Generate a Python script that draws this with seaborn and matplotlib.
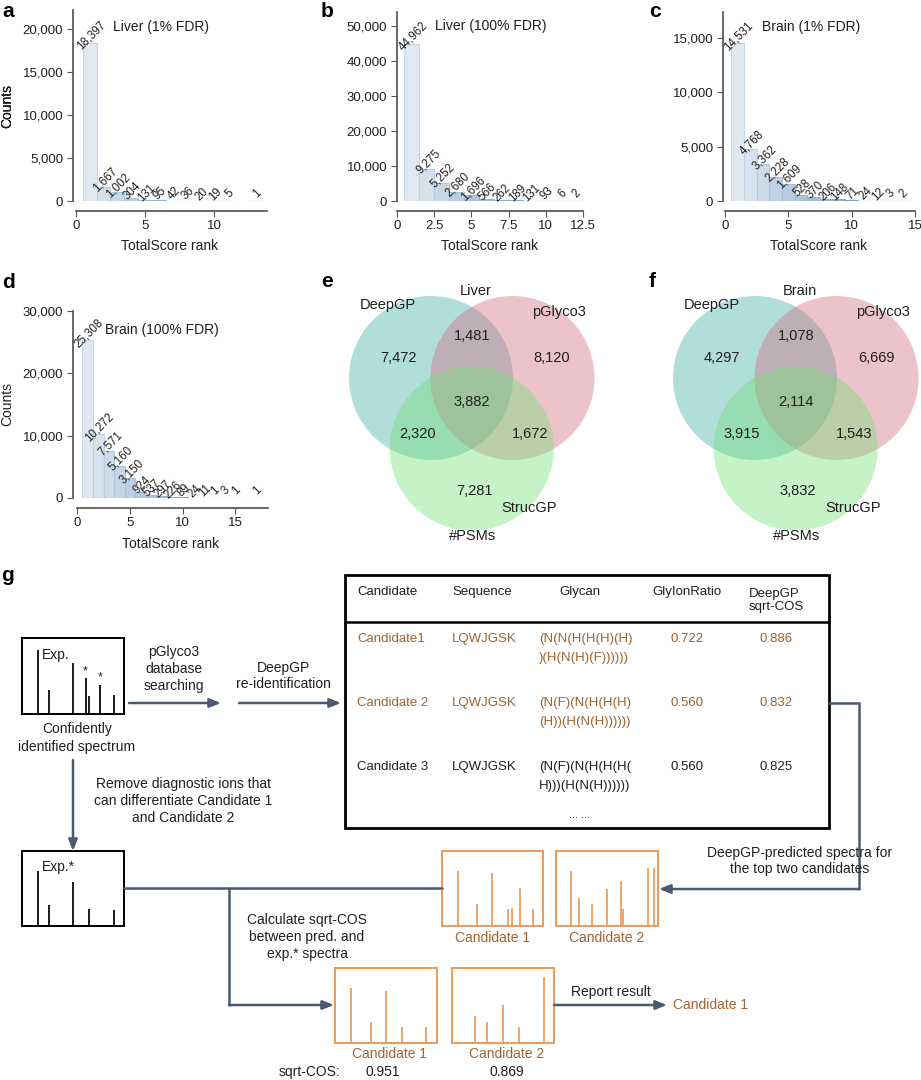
#!/usr/bin/env python3
import pandas as pd
import seaborn as sns
import matplotlib
matplotlib.use('Agg')
import matplotlib.pyplot as plt
import matplotlib.ticker as ticker
from matplotlib.patches import Circle, Rectangle

W, H = 921, 1080

# a-d: PSM counts per TotalScore rank
liver_1pct_rank = [1, 2, 3, 4, 5, 6, 7, 8, 9, 10, 11, 13]
liver_1pct_count = [18397, 1667, 1002, 304, 131, 95, 42, 36, 20, 19, 5, 1]
liver_100pct_rank = [1, 2, 3, 4, 5, 6, 7, 8, 9, 10, 11, 12]
liver_100pct_count = [44962, 9275, 5252, 2680, 1696, 566, 262, 189, 131, 93, 6, 2]
brain_1pct_rank = [1, 2, 3, 4, 5, 6, 7, 8, 9, 10, 11, 12, 13, 14]
brain_1pct_count = [14531, 4768, 3362, 2228, 1609, 528, 370, 206, 148, 71, 24, 12, 3, 2]
brain_100pct_rank = [1, 2, 3, 4, 5, 6, 7, 8, 9, 10, 11, 12, 13, 14, 15, 17]
brain_100pct_count = [25308, 10272, 7571, 5160, 3150, 924, 537, 297, 226, 89, 24, 11, 1, 3, 1, 1]

# e-f: #PSMs, regions in order 100, 010, 001, 110, 101, 011, 111
venn_sets = ['DeepGP', 'pGlyco3', 'StrucGP']
liver_venn = [7472, 8120, 7281, 1481, 2320, 1672, 3882]
brain_venn = [4297, 6669, 3832, 1078, 3915, 1543, 2114]

# g: candidate table
table_header = ['Candidate', 'Sequence', 'Glycan', 'GlyIonRatio', 'DeepGP\nsqrt-COS']
cand_name = ['Candidate1', 'Candidate 2', 'Candidate 3']
cand_seq = ['LQWJGSK', 'LQWJGSK', 'LQWJGSK']
cand_glycan = [['(N(N(H(H(H)(H)', ')(H(N(H)(F))))))'],
               ['(N(F)(N(H(H(H)', '(H))(H(N(H))))))'],
               ['(N(F)(N(H(H(H(', 'H)))(H(N(H))))))']]
cand_ratio = [0.722, 0.560, 0.560]
cand_cos = [0.886, 0.832, 0.825]
rescored_cos = [0.951, 0.869]

# g: schematic spectra (relative peak position, relative height)
exp_pos = [0.157, 0.265, 0.5, 0.624, 0.657, 0.768, 0.902]
exp_hgt = [0.846, 0.32, 0.671, 0.474, 0.241, 0.386, 0.254]
expstar_pos = [0.157, 0.265, 0.5, 0.657, 0.902]
expstar_hgt = [0.733, 0.284, 0.587, 0.222, 0.218]
pred1_pos = [0.154, 0.351, 0.498, 0.652, 0.689, 0.770, 0.902]
pred1_hgt = [0.735, 0.288, 0.708, 0.226, 0.235, 0.509, 0.221]
pred2_pos = [0.151, 0.224, 0.349, 0.503, 0.641, 0.661, 0.901, 0.957]
pred2_hgt = [0.730, 0.367, 0.288, 0.5, 0.602, 0.221, 0.774, 0.774]
pred1_star_pos = [0.153, 0.349, 0.498, 0.658, 0.896]
pred1_star_hgt = [0.727, 0.282, 0.700, 0.211, 0.211]
pred2_star_pos = [0.225, 0.346, 0.5, 0.660, 0.902]
pred2_star_hgt = [0.361, 0.282, 0.502, 0.216, 0.877]

ARROW = '#4b5a70'
ORANGE = '#ee9a58'
BROWN = '#a3622f'
TXT = '#1f1f1f'

sns.set_theme(style='ticks')
plt.rcParams['font.family'] = ['Liberation Sans', 'DejaVu Sans']
plt.rcParams['axes.edgecolor'] = '#555555'
plt.rcParams['xtick.color'] = '#555555'
plt.rcParams['ytick.color'] = '#555555'
plt.rcParams['xtick.labelcolor'] = TXT
plt.rcParams['ytick.labelcolor'] = TXT
plt.rcParams['text.color'] = TXT
plt.rcParams['axes.labelcolor'] = TXT

fig = plt.figure(figsize=(W / 100, H / 100), dpi=100)
fig.patch.set_facecolor('white')

ov = fig.add_axes([0, 0, 1, 1])
ov.set_xlim(0, W)
ov.set_ylim(H, 0)
ov.axis('off')


def rank_panel(box, ranks, counts, xlim, ylim, xticks, yticks, title, title_x, title_y, xlab_top):
    l, t, r, b = box
    ax = fig.add_axes([l / W, 1 - b / H, (r - l) / W, (b - t) / H])
    df = pd.DataFrame({'rank': ranks, 'count': counts})
    df['lvl'] = df['rank'].astype(str)
    pal = sns.blend_palette(['#dde9f5', '#4f8cc5'], len(ranks))
    sns.barplot(data=df, x='rank', y='count', hue='lvl', palette=pal, native_scale=True,
                width=1, dodge=False, legend=False, errorbar=None, ax=ax, linewidth=0.8)
    for p in ax.patches:
        fc = p.get_facecolor()
        p.set_edgecolor(tuple(0.8 * c + 0.2 * d for c, d in zip(fc[:3], (0.31, 0.55, 0.77))))
    for rk, c in zip(ranks, counts):
        ax.annotate(f'{c:,}', (rk, c), xytext=(1, 5), textcoords='offset points',
                    rotation=45, ha='center', va='center', fontsize=8.3)
    ax.set_xlim(*xlim)
    ax.set_ylim(*ylim)
    ax.set_xticks(xticks)
    ax.set_yticks(yticks)
    ax.xaxis.set_major_formatter(ticker.FuncFormatter(lambda v, _: f'{v:g}'))
    ax.yaxis.set_major_formatter(ticker.StrMethodFormatter('{x:,.0f}'))
    ax.tick_params(labelsize=9.5, length=4, width=0.8, pad=3)
    sns.despine(ax=ax)
    ax.spines['bottom'].set_position(('outward', 7))
    ax.spines['bottom'].set_bounds(max(0, xlim[0]), xlim[1])
    ax.set_xlabel('TotalScore rank', fontsize=10)
    ax.set_ylabel('Counts', fontsize=10)
    ax.xaxis.set_label_coords(0.5, -(xlab_top - b) / (b - t))
    ax.yaxis.set_label_coords(-(l - 14) / (r - l), 0.5)
    ax.text(title_x, title_y, title, transform=ax.transAxes, fontsize=10, va='center')
    return ax


rank_panel((73, 10, 267, 201), liver_1pct_rank, liver_1pct_count, (-0.2, 13.8), (0, 22200),
           [0, 5, 10], [0, 5000, 10000, 15000, 20000], 'Liver (1% FDR)', 0.206, 0.91, 239)
rank_panel((397, 12, 583, 201), liver_100pct_rank, liver_100pct_count, (0, 12.5), (0, 54000),
           [0, 2.5, 5, 7.5, 10, 12.5], [0, 10000, 20000, 30000, 40000, 50000],
           'Liver (100% FDR)', 0.204, 0.926, 239)
rank_panel((723, 12, 915, 201), brain_1pct_rank, brain_1pct_count, (-0.15, 15), (0, 17400),
           [0, 5, 10, 15], [0, 5000, 10000, 15000], 'Brain (1% FDR)', 0.203, 0.92, 239)
rank_panel((73, 311, 268, 498), brain_100pct_rank, brain_100pct_count, (-0.4, 18.1), (0, 30000),
           [0, 5, 10, 15], [0, 10000, 20000, 30000], 'Brain (100% FDR)', 0.165, 0.90, 537)

# panel letters
for s, x, y in [('a', 2, 17), ('b', 321, 17), ('c', 649, 17), ('d', 2, 288),
                ('e', 321, 287), ('f', 649, 287), ('g', 1, 581)]:
    ov.text(x, y, s, fontsize=15, fontweight='bold', va='baseline', ha='left', color='black')


# e, f: Venn diagrams (unweighted)
venn_colors = ['#3eaca5', '#d46b7f', '#6ee175']
venn_label_off = [(-33, -20), (121, -20), (43, 113), (41, -42), (-13, 56), (99, 56), (41, 24)]
venn_name_off = [(-43, -73), (128, -66), (98, 130)]


def venn(cx, cy, values, title):
    centers = [(cx, cy), (cx + 81.5, cy), (cx + 40.75, cy + 70.5)]
    for (x, y), c in zip(centers, venn_colors):
        ov.add_patch(Circle((x, y), 82, fc=c, alpha=0.4, ec='none'))
    for v, (dx, dy) in zip(values, venn_label_off):
        ov.text(cx + dx, cy + dy, f'{v:,}', ha='center', va='center', fontsize=10.5)
    for name, (dx, dy) in zip(venn_sets, venn_name_off):
        ov.text(cx + dx, cy + dy, name, ha='center', va='center', fontsize=10.5)
    ov.text(cx + 45, cy - 87, title, ha='center', va='center', fontsize=10.5)
    ov.text(cx + 42, cy + 158, '#PSMs', ha='center', va='center', fontsize=10.5)


venn(431, 378, liver_venn, 'Liver')
venn(755, 378, brain_venn, 'Brain')


# g: workflow schematic
def spectrum(box, pos, hgt, color, lw=1.4):
    x0, y0, x1, y1 = box
    ov.add_patch(Rectangle((x0, y0), x1 - x0, y1 - y0, fill=False, ec=color, lw=lw))
    for p, h in zip(pos, hgt):
        x = x0 + p * (x1 - x0)
        ov.plot([x, x], [y1, y1 - h * (y1 - y0)], color=color, lw=lw * 0.9, solid_capstyle='butt')


def arrow(points, color=ARROW):
    xs, ys = zip(*points)
    if len(points) > 2:
        ov.plot(xs[:-1], ys[:-1], color=color, lw=1.8, solid_joinstyle='miter')
    ov.annotate('', xy=points[-1], xytext=points[-2],
                arrowprops=dict(arrowstyle='-|>,head_length=0.55,head_width=0.22', color=color,
                                lw=1.8, shrinkA=0, shrinkB=0))


exp_box = (22, 638, 124, 714)
spectrum(exp_box, exp_pos, exp_hgt, 'black')
ov.text(42, 655, 'Exp.', fontsize=10, va='center')
for i in (3, 5):
    x = exp_box[0] + exp_pos[i] * (exp_box[2] - exp_box[0])
    ytop = exp_box[3] - exp_hgt[i] * (exp_box[3] - exp_box[1])
    ov.text(x, ytop - 1, '*', ha='center', va='bottom', fontsize=9)
ov.text(77, 738, 'Confidently\nidentified spectrum', ha='center', va='center', fontsize=10,
        linespacing=1.3)

arrow([(129, 703), (221, 703)])
ov.text(174, 669, 'pGlyco3\ndatabase\nsearching', ha='center', va='center', fontsize=10,
        linespacing=1.25)
arrow([(239, 703), (341, 703)])
ov.text(283, 676, 'DeepGP\nre-identification', ha='center', va='center', fontsize=10,
        linespacing=1.25)

# candidate table
ov.add_patch(Rectangle((345, 575), 484, 253, fill=False, ec='black', lw=2))
ov.plot([345, 829], [622, 622], color='black', lw=1.8)
hx = [357, 452, 580, 687, 749]
ha_list = ['left', 'left', 'center', 'center', 'left']
for s, x, ha in zip(table_header, hx, ha_list):
    ov.text(x, 592 if '\n' not in s else 600.5, s, ha=ha, va='center', fontsize=9.5,
            linespacing=1.2)
row_y = [639, 703, 767]
row_col = [BROWN, BROWN, TXT]
for name, seq, gly, ratio, cos, y, c in zip(cand_name, cand_seq, cand_glycan, cand_ratio,
                                             cand_cos, row_y, row_col):
    ov.text(357, y, name, ha='left', va='center', fontsize=9.5, color=c)
    ov.text(452, y, seq, ha='left', va='center', fontsize=9.5, color=c)
    ov.text(539, y, gly[0], ha='left', va='center', fontsize=9.5, color=c)
    ov.text(539, y + 19, gly[1], ha='left', va='center', fontsize=9.5, color=c)
    ov.text(687, y, f'{ratio:.3f}', ha='center', va='center', fontsize=9.5, color=c)
    ov.text(776, y, f'{cos:.3f}', ha='center', va='center', fontsize=9.5, color=c)
ov.text(580, 815, '... ...', ha='center', va='center', fontsize=8)

# predicted spectra for the top two candidates
arrow([(829, 703), (859, 703), (859, 889), (659, 889)])
ov.text(800, 861, 'DeepGP-predicted spectra for\nthe top two candidates', ha='center',
        va='center', fontsize=10, linespacing=1.25)
top_boxes = [(442, 851, 543, 926), (556, 851, 658, 926)]
spectrum(top_boxes[0], pred1_pos, pred1_hgt, ORANGE)
spectrum(top_boxes[1], pred2_pos, pred2_hgt, ORANGE)
ov.text(492, 938, 'Candidate 1', ha='center', va='center', fontsize=10, color=BROWN)
ov.text(607, 938, 'Candidate 2', ha='center', va='center', fontsize=10, color=BROWN)

# diagnostic ions removed
arrow([(73, 760), (73, 851)])
ov.text(183, 801, 'Remove diagnostic ions that\ncan differentiate Candidate 1\nand Candidate 2',
        ha='center', va='center', fontsize=10, linespacing=1.25)
spectrum((22, 851, 124, 926), expstar_pos, expstar_hgt, 'black')
ov.text(42, 867, 'Exp.*', fontsize=10, va='center')
ov.plot([124, 442], [888, 888], color=ARROW, lw=1.8)
arrow([(229, 888), (229, 1005), (334, 1005)])
ov.text(307, 937, 'Calculate sqrt-COS\nbetween pred. and\nexp.* spectra', ha='center',
        va='center', fontsize=10, linespacing=1.25)

bottom_boxes = [(335, 968, 437, 1043), (452, 968, 554, 1043)]
spectrum(bottom_boxes[0], pred1_star_pos, pred1_star_hgt, ORANGE)
spectrum(bottom_boxes[1], pred2_star_pos, pred2_star_hgt, ORANGE)
ov.text(389, 1054, 'Candidate 1', ha='center', va='center', fontsize=10, color=BROWN)
ov.text(507, 1054, 'Candidate 2', ha='center', va='center', fontsize=10, color=BROWN)
ov.text(309, 1072, 'sqrt-COS:', ha='center', va='center', fontsize=10)
ov.text(383, 1072, f'{rescored_cos[0]:.3f}', ha='center', va='center', fontsize=10)
ov.text(507, 1072, f'{rescored_cos[1]:.3f}', ha='center', va='center', fontsize=10)

arrow([(554, 1005), (667, 1005)])
ov.text(611, 992, 'Report result', ha='center', va='center', fontsize=10)
ov.text(673, 1005, cand_name[0].replace('1', ' 1'), ha='left', va='center', fontsize=10,
        color=BROWN)

fig.savefig('out.png', dpi=100, facecolor='white')
